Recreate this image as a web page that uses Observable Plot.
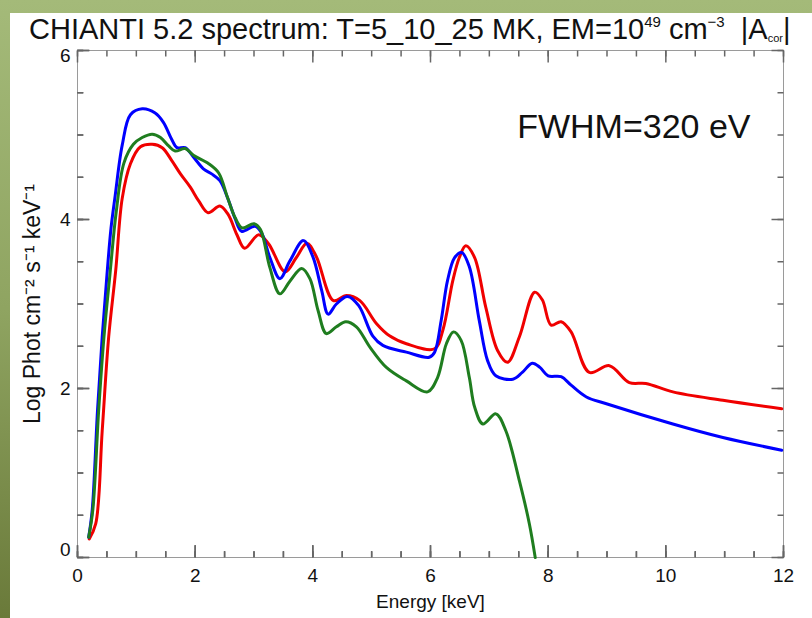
<!DOCTYPE html>
<html>
<head>
<meta charset="utf-8">
<script src="https://cdn.jsdelivr.net/npm/d3@7"></script>
<script src="https://cdn.jsdelivr.net/npm/@observablehq/plot@0.6"></script>
<style>
  html, body { margin: 0; padding: 0; }
  body {
    width: 812px; height: 618px; overflow: hidden; position: relative;
    background: linear-gradient(to bottom, #a4ba79 0%, #8fa461 50%, #6a7a3a 100%);
    font-family: "Liberation Sans", Arial, Helvetica, sans-serif;
  }
  #panel {
    position: absolute; left: 10px; top: 13px; width: 802px; height: 605px;
    background: #fff;
  }
  #title {
    position: absolute; left: 29px; top: 14px; font-size: 29px; line-height: 30px;
    white-space: nowrap; color: #111;
  }
  #title sup { font-size: 15px; vertical-align: 12px; line-height: 0; }
  #title sub { font-size: 11px; vertical-align: -3px; line-height: 0; }
  #chart { position: absolute; left: 0; top: 40px; }
</style>
</head>
<body>
<div id="panel"></div>
<div id="title">CHIANTI 5.2 spectrum: T=5_10_25 MK, EM=10<sup>49</sup> cm<sup>−3</sup>&nbsp;&nbsp;|A<sub>cor</sub>|</div>
<div id="chart"></div>
<script>
// ---- data (Energy keV, log photon flux) ----
const blueEnergy = [0.19,0.25,0.34,0.42,0.50,0.57,0.64,0.76,0.90,1.10,1.32,1.46,1.60,1.69,1.83,1.97,2.14,2.28,2.42,2.56,2.68,2.79,3.02,3.13,3.27,3.44,3.61,3.84,4.00,4.15,4.26,4.40,4.59,4.78,5.02,5.19,5.59,5.98,6.07,6.18,6.29,6.41,6.53,6.66,6.83,6.97,7.11,7.40,7.56,7.73,7.86,8.00,8.22,8.39,8.65,8.99,10.12,10.97,11.97];
const blueFlux   = [0.24,0.56,1.74,2.61,3.34,3.90,4.28,4.88,5.24,5.31,5.26,5.15,4.95,4.85,4.85,4.74,4.60,4.54,4.46,4.24,4.01,3.86,3.92,3.84,3.55,3.30,3.51,3.75,3.56,3.16,2.88,3.00,3.09,2.98,2.62,2.51,2.43,2.37,2.43,2.80,3.28,3.55,3.61,3.44,2.80,2.33,2.15,2.11,2.19,2.30,2.25,2.15,2.14,2.04,1.90,1.82,1.58,1.42,1.27];

const greenEnergy = [0.19,0.26,0.36,0.45,0.55,0.66,0.79,0.95,1.10,1.27,1.41,1.55,1.66,1.83,1.97,2.23,2.40,2.55,2.68,2.80,3.00,3.11,3.27,3.44,3.61,3.81,3.95,4.09,4.23,4.40,4.56,4.74,4.97,5.25,5.59,5.95,6.12,6.27,6.39,6.52,6.66,6.75,6.89,7.11,7.28,7.51,7.68,7.78];
const greenFlux   = [0.24,0.56,1.74,2.61,3.34,4.10,4.67,4.89,4.97,5.01,4.97,4.87,4.81,4.84,4.76,4.66,4.55,4.26,4.02,3.90,3.95,3.88,3.43,3.12,3.27,3.42,3.30,2.92,2.65,2.73,2.79,2.73,2.49,2.25,2.09,1.96,2.13,2.53,2.67,2.57,2.13,1.78,1.58,1.70,1.50,0.91,0.40,0.00];

const redEnergy = [0.20,0.31,0.42,0.53,0.65,0.76,0.90,1.07,1.27,1.44,1.60,1.75,1.92,2.06,2.22,2.42,2.56,2.71,2.84,3.08,3.25,3.53,3.72,3.90,4.06,4.35,4.57,4.80,5.08,5.31,5.59,6.07,6.21,6.38,6.49,6.60,6.75,6.94,7.14,7.31,7.51,7.77,7.90,8.05,8.22,8.39,8.70,9.04,9.38,9.66,10.12,10.97,11.97];
const redFlux   = [0.22,0.40,1.50,2.61,3.40,4.25,4.66,4.86,4.89,4.85,4.70,4.54,4.38,4.22,4.08,4.16,4.06,3.82,3.66,3.82,3.71,3.38,3.55,3.72,3.56,3.04,3.10,3.04,2.77,2.62,2.53,2.47,2.69,3.28,3.55,3.69,3.55,2.96,2.45,2.31,2.61,3.14,3.05,2.75,2.79,2.67,2.19,2.27,2.07,2.06,1.96,1.86,1.76];

const seriesColors = {blue: "#0000ff", green: "#1f7d1f", red: "#f00000"};
const xMajorTicks = [0, 2, 4, 6, 8, 10, 12];
const yMajorTicks = [0, 2, 4, 6];
const xMinorTicks = [0, 0.5, 1, 1.5, 2, 2.5, 3, 3.5, 4, 4.5, 5, 5.5, 6, 6.5, 7, 7.5, 8, 8.5, 9, 9.5, 10, 10.5, 11, 11.5, 12];
const yMinorTicks = [0, 0.5, 1, 1.5, 2, 2.5, 3, 3.5, 4, 4.5, 5, 5.5, 6];
const xTitle = "Energy [keV]";
const yTitle = "Log Phot cm⁻² s⁻¹ keV⁻¹";
const annotation = "FWHM=320 eV";

const toRows = (E, F) => E.map((e, i) => ({E: e, F: F[i]}));
const blue = toRows(blueEnergy, blueFlux);
const green = toRows(greenEnergy, greenFlux);
const red = toRows(redEnergy, redFlux);

const W = 812, H = 578, mL = 77, mR = 29, mT = 10, mB = 61;
const xDomain = [0, 12], yDomain = [0, 6];
const frameW = W - mL - mR, frameH = H - mT - mB;
const dxPx = (px) => px * (xDomain[1] - xDomain[0]) / frameW;
const dyPx = (px) => px * (yDomain[1] - yDomain[0]) / frameH;
const tickColor = "#666";
const lineOpts = (c) => ({x: "E", y: "F", stroke: c, strokeWidth: 3, curve: "catmull-rom"});
const fmt = (d) => String(d);
// inward ticks on all four sides: segments drawn from inside the frame toward its edge
const seg = (t, len, side) => t.map((v) => {
  if (side === "bottom") return {x1: v, x2: v, y1: yDomain[0] + dyPx(len), y2: yDomain[0]};
  if (side === "top") return {x1: v, x2: v, y1: yDomain[1] - dyPx(len), y2: yDomain[1]};
  if (side === "left") return {x1: xDomain[0] + dxPx(len), x2: xDomain[0], y1: v, y2: v};
  return {x1: xDomain[1] - dxPx(len), x2: xDomain[1], y1: v, y2: v};
});
const sides = ["bottom", "top", "left", "right"];
const tickMarks = sides.flatMap((side) => {
  const isX = side === "bottom" || side === "top";
  const segs = [...seg(isX ? xMinorTicks : yMinorTicks, 6, side), ...seg(isX ? xMajorTicks : yMajorTicks, 12, side)];
  return [Plot.link(segs, {x1: "x1", x2: "x2", y1: "y1", y2: "y2", stroke: tickColor, strokeWidth: 1.5})];
});
// same bottom/left ticks again as inset-trimmed tick marks
const extraTicks = [
  Plot.tickX(xMinorTicks, {x: (d) => d, insetTop: frameH - 6, stroke: tickColor, strokeWidth: 1.5}),
  Plot.tickX(xMajorTicks, {x: (d) => d, insetTop: frameH - 12, stroke: tickColor, strokeWidth: 1.5}),
  Plot.tickY(yMinorTicks, {y: (d) => d, insetRight: frameW - 6, stroke: tickColor, strokeWidth: 1.5}),
  Plot.tickY(yMajorTicks, {y: (d) => d, insetRight: frameW - 12, stroke: tickColor, strokeWidth: 1.5})
];

const chart = Plot.plot({
  width: W,
  height: H,
  marginLeft: mL,
  marginRight: mR,
  marginTop: mT,
  marginBottom: mB,
  style: {fontFamily: "'Liberation Sans', Arial, Helvetica, sans-serif", fontSize: "19px", background: "transparent", color: "#111"},
  x: {domain: xDomain, label: null},
  y: {domain: yDomain, label: null},
  marks: [
    Plot.frame({stroke: "#9a9a9a"}),
    // tick labels
    Plot.axisX(xMajorTicks, {anchor: "bottom", tickSize: 0, tickPadding: 11, label: null, fontSize: 19, tickFormat: fmt}),
    Plot.axisY([2, 4], {anchor: "left", tickSize: 0, tickPadding: 7, label: null, fontSize: 19, tickFormat: fmt}),
    Plot.axisY([6], {anchor: "left", tickSize: 0, tickPadding: 7, label: null, fontSize: 19, dy: 5, tickFormat: fmt}),
    Plot.axisY([0], {anchor: "left", tickSize: 0, tickPadding: 7, label: null, fontSize: 19, dy: -8, tickFormat: fmt}),
    ...tickMarks,
    ...extraTicks,
    // axis titles & annotation
    Plot.text([xTitle], {frameAnchor: "bottom", dy: 50, fontSize: 19}),
    Plot.text([yTitle], {frameAnchor: "left", dx: -45, rotate: -90, textAnchor: "middle", fontSize: 23}),
    Plot.text([annotation], {frameAnchor: "top-right", dx: -33, dy: 63, textAnchor: "end", fontSize: 34}),
    // spectra
    Plot.line(red, lineOpts(seriesColors.red)),
    Plot.line(blue, lineOpts(seriesColors.blue)),
    Plot.line(green, lineOpts(seriesColors.green))
  ]
});
document.getElementById("chart").appendChild(chart);
</script>
</body>
</html>
